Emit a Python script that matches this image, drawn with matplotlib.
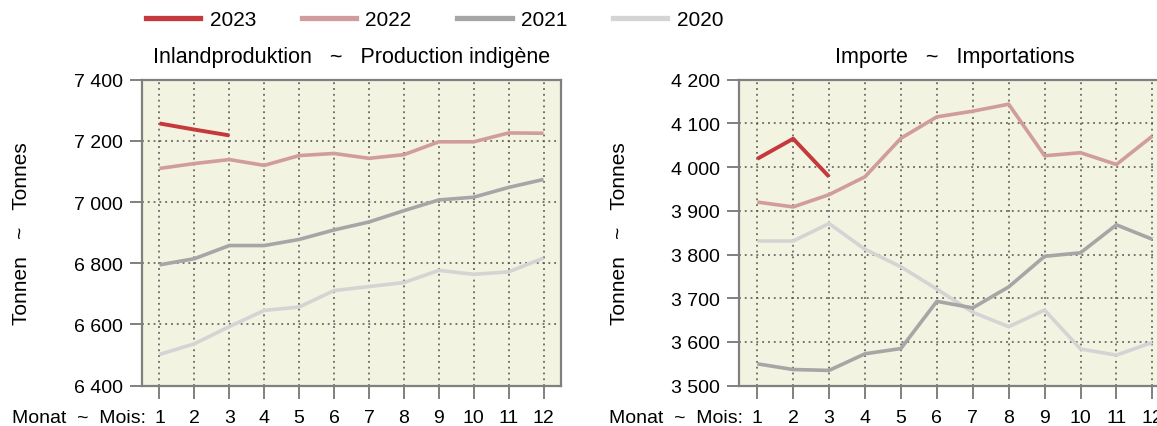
import matplotlib
matplotlib.use("Agg")
import matplotlib.pyplot as plt
from matplotlib.lines import Line2D

plt.rcParams['font.family'] = ['Liberation Sans', 'DejaVu Sans']

months = list(range(1, 13))
years = ["2023", "2022", "2021", "2020"]
colors = {"2023": "#C5383B", "2022": "#D19C9C", "2021": "#A6A6A6", "2020": "#D4D4D4"}

# Inlandproduktion ~ Production indigène (Tonnen)
prod_2023 = [7257, 7237, 7218]
prod_2022 = [7110, 7126, 7139, 7120, 7152, 7159, 7143, 7155, 7197, 7197, 7226, 7225]
prod_2021 = [6795, 6815, 6858, 6858, 6878, 6909, 6935, 6972, 7007, 7016, 7048, 7074]
prod_2020 = [6502, 6537, 6593, 6646, 6657, 6711, 6724, 6737, 6777, 6764, 6772, 6817]

# Importe ~ Importations (Tonnen)
imp_2023 = [4019, 4065, 3978]
imp_2022 = [3920, 3909, 3937, 3978, 4066, 4115, 4128, 4144, 4026, 4033, 4006, 4071]
imp_2021 = [3550, 3537, 3535, 3573, 3585, 3693, 3678, 3726, 3796, 3804, 3868, 3835]
imp_2020 = [3831, 3831, 3871, 3812, 3772, 3721, 3668, 3635, 3673, 3584, 3570, 3599]

prod_yticks = [6400, 6600, 6800, 7000, 7200, 7400]
imp_yticks = [3500, 3600, 3700, 3800, 3900, 4000, 4100, 4200]

W, H = 1157, 427
fig = plt.figure(figsize=(W / 100, H / 100), dpi=100)

bg = "#F3F3E2"
spine_c = "#808080"
fs = 14


def fmt(v):
    return f"{v:,}".replace(",", " ")


def make_ax(left_px, width_px, series, yticks, title):
    ax = fig.add_axes([left_px / W, (H - 386.7) / H, width_px / W, 306 / H])
    ax.set_facecolor(bg)
    # draw oldest first so newest on top
    for yr, vals in reversed(list(zip(years, series))):
        lw = 2.8 if yr == "2023" else 2.6
        ax.plot(months[:len(vals)], vals, color=colors[yr], lw=lw,
                solid_capstyle='butt', zorder=3)
    ax.set_xlim(0.5, 12.5)
    ax.set_ylim(yticks[0], yticks[-1])
    ax.set_xticks(months)
    ax.set_xticklabels([str(m) for m in months])
    ax.set_yticks(yticks)
    ax.set_yticklabels([fmt(v) for v in yticks])
    ax.grid(True, color="#505050", linestyle=(0, (1.2, 2.6)), linewidth=1.1, zorder=1)
    ax.set_axisbelow(True)
    for s in ax.spines.values():
        s.set_color(spine_c)
        s.set_linewidth(1.6)
    ax.tick_params(axis='both', colors=spine_c, length=9, width=1.4, labelcolor="black",
                   labelsize=fs)
    ax.tick_params(axis='x', pad=8)
    ax.tick_params(axis='y', pad=5)
    ax.set_title(title, fontsize=15.5, pad=13)
    # y label
    fig.text((left_px - 120) / W, (H - 233.7) / H, "Tonnen   ~   Tonnes",
             rotation=90, ha='center', va='center', fontsize=fs + 1)
    # x label prefix
    fig.text((left_px + 4) / W, (H - 418.5) / H, "Monat  ~  Mois:",
             ha='right', va='center', fontsize=fs)
    return ax


ax1 = make_ax(142, 419, [prod_2023, prod_2022, prod_2021, prod_2020], prod_yticks,
              "Inlandproduktion   ~   Production indigène")
ax2 = make_ax(739.3, 431, [imp_2023, imp_2022, imp_2021, imp_2020], imp_yticks,
              "Importe   ~   Importations")

handles = [Line2D([0], [0], color=colors[y], lw=3.8) for y in years]
fig.legend(handles, years, loc='center left', bbox_to_anchor=(146 / W, (H - 21) / H),
           ncol=4, frameon=False, fontsize=fs + 1, handlelength=2.6, handletextpad=0.45,
           columnspacing=2.2, borderpad=0, borderaxespad=0)

fig.savefig("out.png", dpi=100)
